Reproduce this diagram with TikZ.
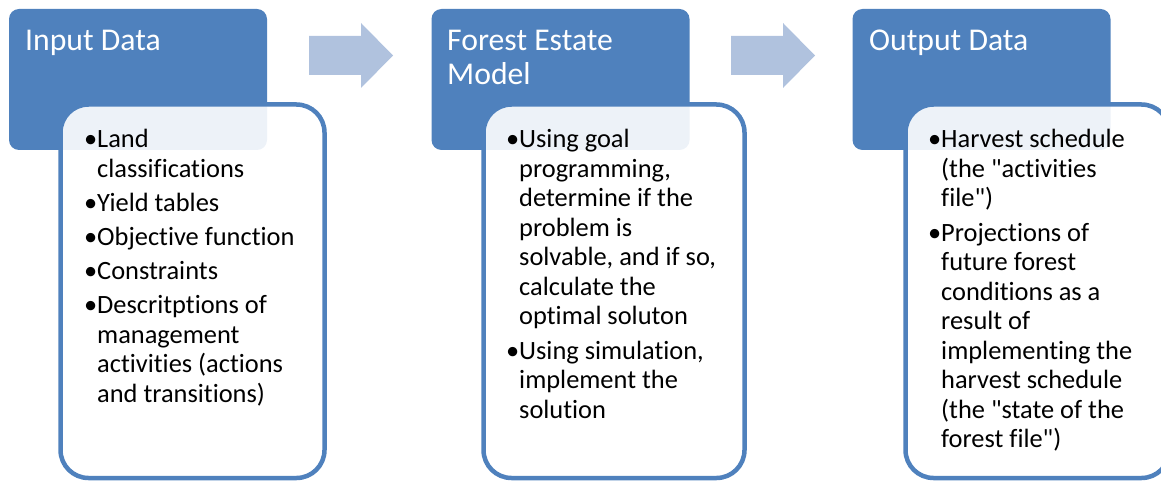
\documentclass[tikz,border=0pt]{standalone}
\usepackage{fontspec}
\setmainfont{Carlito}[Ligatures={TeXOff,CommonOff}]
\definecolor{accent}{HTML}{4F81BD}
\definecolor{arrowfill}{HTML}{B0C2DE}
\newcommand{\cardtitle}{\fontsize{31.7}{34}\selectfont}
\newcommand{\cardbody}{\fontsize{26.4}{29.5}\selectfont}
\newcommand{\bulletitem}[1]{\makebox[13pt][l]{•}\parbox[t]{240pt}{\cardbody\raggedright #1}}
\tikzset{
  header/.style={fill=accent, rounded corners=10pt, inner sep=0pt,
    minimum width=258pt, minimum height=141pt},
  detail/.style={draw=accent, line width=4.5pt, fill=white, fill opacity=0.9,
    rounded corners=28pt, inner sep=0pt, minimum width=264pt, minimum height=373.5pt},
  titletext/.style={anchor=base west, inner sep=0pt, text=white, font=\cardtitle},
  itemtext/.style={anchor=base west, inner sep=0pt, text=black, font=\cardbody},
  flowarrow/.style={fill=arrowfill}
}
\begin{document}
\begin{tikzpicture}[x=1pt, y=-1pt]
\useasboundingbox (0,0) rectangle (1161,481);
\clip (0,0) rectangle (1161,481);

% card 1: input data
\node[header] (inhead) at (138,79.5) {};
\node[detail] (inbody) at (192.5,291.25) {};
\node[titletext] (intitle) at (25,51) {Input Data};
\node[itemtext] (in1) at (84,148) {\bulletitem{Land\\classifications}};
\node[itemtext] (in2) at (84,211.5) {\bulletitem{Yield tables}};
\node[itemtext] (in3) at (84,245.5) {\bulletitem{Objective function}};
\node[itemtext] (in4) at (84,279.5) {\bulletitem{Constraints}};
\node[itemtext] (in5) at (84,313.5) {\bulletitem{Descritptions of\\management\\activities (actions\\and transitions)}};

% card 2: forest estate model
\node[header] (fmhead) at (560.5,79.5) {};
\node[detail, minimum width=261pt] (fmbody) at (614,291.25) {};
\node[titletext] (fmtitle1) at (447,51) {Forest Estate};
\node[titletext] (fmtitle2) at (447,85) {Model};
\node[itemtext] (fm1) at (506,148) {\bulletitem{Using goal\\programming,\\determine if the\\problem is\\solvable, and if so,\\calculate the\\optimal soluton}};
\node[itemtext] (fm2) at (506,359) {\bulletitem{Using simulation,\\implement the\\solution}};

% card 3: output data
\node[header] (outhead) at (981.5,79.5) {};
\node[detail] (outbody) at (1037.5,291.25) {};
\node[titletext] (outtitle) at (869,51) {Output Data};
\node[itemtext] (out1) at (928,148) {\bulletitem{Harvest schedule\\(the "activities\\file")}};
\node[itemtext] (out2) at (928,241) {\bulletitem{Projections of\\future forest\\conditions as a\\result of\\implementing the\\harvest schedule\\(the "state of the\\forest file")}};

% block arrows between the cards
\fill[flowarrow] (309,36) -- (361,36) -- (361,23) -- (393,55.5) -- (361,88) -- (361,75) -- (309,75) -- cycle;
\fill[flowarrow] (731,36) -- (783,36) -- (783,23) -- (815,55.5) -- (783,88) -- (783,75) -- (731,75) -- cycle;
\end{tikzpicture}
\end{document}
